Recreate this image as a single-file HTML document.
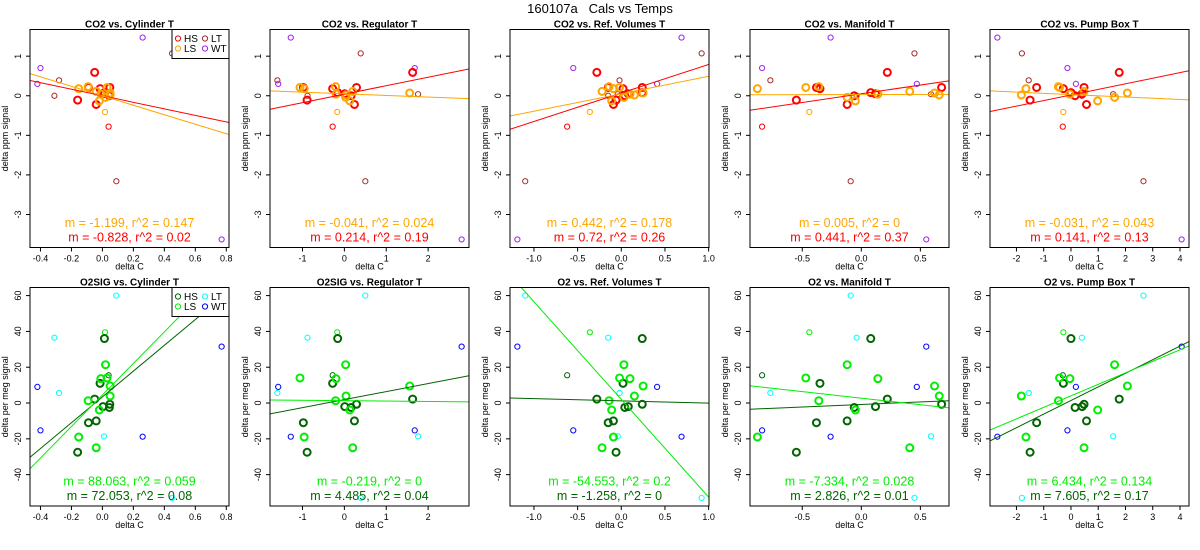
<!DOCTYPE html>
<html><head><meta charset="utf-8"><style>
html,body{margin:0;padding:0;background:#fff;}
svg{display:block;font-family:"Liberation Sans",Arial,sans-serif;}
</style></head><body>
<svg id="chart" width="1200" height="550" viewBox="0 0 1200 550">
<text x="600" y="13" text-anchor="middle" font-size="13" xml:space="preserve">160107a   Cals vs Temps</text>
</svg>
<script>
// ---- data: x values (delta C) per temperature column, per group ----
const colTitles = ["Cylinder T","Regulator T","Ref. Volumes T","Manifold T","Pump Box T"];
const colXTicks = [[-0.4,-0.2,0.0,0.2,0.4,0.6,0.8],[-1,0,1,2],[-1.0,-0.5,0.0,0.5,1.0],[-0.5,0.0,0.5],[-2,-1,0,1,2,3,4]];
const colTickDigits = [1,0,1,1,0];
const xHS_cyl = [-0.05,-0.09,0.048,-0.015,0.013,-0.16,-0.04,0.004,0.045];
const xHS_reg = [1.63,-0.98,0.29,-0.28,-0.16,-0.89,0.24,0.01,0.16];
const xHS_ref = [-0.28,-0.15,0.24,0.02,0.24,-0.06,-0.09,0.08,0.04];
const xHS_man = [0.22,-0.38,0.68,-0.35,0.08,-0.55,-0.12,0.12,-0.06];
const xHS_pump = [1.77,-1.26,0.48,-0.28,0.0,-1.5,0.57,0.41,0.15];
const xLS_cyl = [-0.153,-0.092,-0.04,-0.02,0.03,0.05,0.02,-0.01,0.05];
const xLS_reg = [-0.96,-0.21,0.2,0.13,-1.06,1.56,0.03,-0.2,0.04];
const xLS_ref = [-0.09,-0.14,-0.22,-0.11,-0.02,0.25,0.03,0.1,0.15];
const xLS_man = [-0.88,-0.36,0.41,-0.05,-0.47,0.62,-0.12,0.14,0.66];
const xLS_pump = [-1.65,-0.46,0.48,0.98,-0.42,2.07,1.6,-0.04,-1.82];
const xLT_cyl = [-0.28,-0.31,0.09,0.45,0.01];
const xLT_reg = [-1.6,-0.88,0.5,0.39,1.76];
const xLT_ref = [-0.02,-0.15,-1.1,0.92,-0.04];
const xLT_man = [-0.77,-0.04,-0.09,0.45,0.59];
const xLT_pump = [-1.55,0.4,2.66,-1.8,1.55];
const xWT_cyl = [-0.40,-0.42,0.26,0.77];
const xWT_reg = [1.68,-1.58,-1.28,2.8];
const xWT_ref = [-0.55,0.41,0.69,-1.19];
const xWT_man = [-0.84,0.47,-0.26,0.55];
const xWT_pump = [-0.13,0.18,-2.7,4.06];
const xHSout = [0.04,-0.28,-0.62,-0.84,-0.3];
const xLSout = [0.017,-0.17,-0.36,-0.44,-0.28];
// ---- data: y values per row ----
const yHS_co2 = [0.59,0.21,0.21,0.18,0.08,-0.11,-0.22,0.05,0.0];
const yLS_co2 = [0.18,0.23,0.11,-0.13,0.21,0.07,-0.04,0.04,0.02];
const yLT_co2 = [0.39,0.0,-2.16,1.07,0.04];
const yWT_co2 = [0.70,0.30,1.47,-3.63];
const yHSout_co2 = -0.78;
const yLSout_co2 = -0.41;
const yHS_o2 = [2.2,-11,-0.7,11,36,-27.5,-10,-2,-2.5];
const yLS_o2 = [-19,1.3,-25,-3.9,14,9.5,21.4,13.6,3.9];
const yLT_o2 = [5.6,36.5,60,-53,-18.6];
const yWT_o2 = [-15.3,9,-18.8,31.5];
const yHSout_o2 = 15.5;
const yLSout_o2 = 39.5;
// ---- fits ----
const co2SlopeLS = [-1.199,-0.041,0.442,0.005,-0.031];
const co2R2LS = ["0.147","0.024","0.178","0","0.043"];
const co2IntLS = [0.0,0.05,0.05,0.03,0.03];
const co2SlopeHS = [-0.828,0.214,0.72,0.441,0.141];
const co2R2HS = ["0.02","0.19","0.26","0.37","0.13"];
const co2IntHS = [0.0,0.04,0.07,0.05,0.02];
const o2SlopeLS = [88.063,-0.219,-54.553,-7.334,6.434];
const o2R2LS = ["0.059","0","0.2","0.028","0.134"];
const o2IntLS = [4.5,1.3,2.0,2.7,4.0];
const o2SlopeHS = [72.053,4.485,-1.258,2.826,7.605];
const o2R2HS = ["0.08","0.04","0","0.01","0.17"];
const o2IntHS = [3.4,1.9,1.2,-0.8,1.4];
const co2YTicks = [-3,-2,-1,0,1];
const o2YTicks = [-40,-20,0,20,40,60];

const NS = "http://www.w3.org/2000/svg";
const svg = document.getElementById("chart");
function mk(tag, attrs, parent){const e=document.createElementNS(NS,tag);for(const k in attrs)e.setAttribute(k,attrs[k]);(parent||svg).appendChild(e);return e;}
function ext(arr){let mn=Math.min(...arr),mx=Math.max(...arr),d=(mx-mn)*0.04;return [mn-d,mx+d];}

const colX = [
 {HS:xHS_cyl,LS:xLS_cyl,LT:xLT_cyl,WT:xWT_cyl},
 {HS:xHS_reg,LS:xLS_reg,LT:xLT_reg,WT:xWT_reg},
 {HS:xHS_ref,LS:xLS_ref,LT:xLT_ref,WT:xWT_ref},
 {HS:xHS_man,LS:xLS_man,LT:xLT_man,WT:xWT_man},
 {HS:xHS_pump,LS:xLS_pump,LT:xLT_pump,WT:xWT_pump}];
const rows = [
 {pre:["CO2","CO2","CO2","CO2","CO2"], ylab:"delta ppm signal", y:{HS:yHS_co2,LS:yLS_co2,LT:yLT_co2,WT:yWT_co2}, hsOut:yHSout_co2, lsOut:yLSout_co2,
  col:{HS:"#ff0000",LS:"#ffa500",LT:"#a52a2a",WT:"#a020f0"}, ticks:co2YTicks,
  sLS:co2SlopeLS,rLS:co2R2LS,iLS:co2IntLS,sHS:co2SlopeHS,rHS:co2R2HS,iHS:co2IntHS, y0:29.5, y1:247.5},
 {pre:["O2SIG","O2SIG","O2","O2","O2"], ylab:"delta per meg signal", y:{HS:yHS_o2,LS:yLS_o2,LT:yLT_o2,WT:yWT_o2}, hsOut:yHSout_o2, lsOut:yLSout_o2,
  col:{HS:"#006400",LS:"#00ee00",LT:"#00ffff",WT:"#0000ff"}, ticks:o2YTicks,
  sLS:o2SlopeLS,rLS:o2R2LS,iLS:o2IntLS,sHS:o2SlopeHS,rHS:o2R2HS,iHS:o2IntHS, y0:287.5, y1:506}];

rows.forEach((row,ri)=>{
  const yall=[].concat(row.y.HS,row.y.LS,row.y.LT,row.y.WT,[row.hsOut,row.lsOut]);
  const [ymn,ymx]=ext(yall);
  for(let c=0;c<5;c++){
    const cx=colX[c];
    const xall=[].concat(cx.HS,cx.LS,cx.LT,cx.WT,[xHSout[c],xLSout[c]]);
    const [xmn,xmx]=ext(xall);
    const x0=30+240*c, x1=229+240*c, y0=row.y0, y1=row.y1;
    const sx=v=>x0+(v-xmn)/(xmx-xmn)*(x1-x0);
    const sy=v=>y1-(v-ymn)/(ymx-ymn)*(y1-y0);
    const g=mk("g",{});
    
    
    const cid="clip"+ri+"_"+c;
    const cp=mk("clipPath",{id:cid},g); mk("rect",{x:x0,y:y0,width:x1-x0,height:y1-y0},cp);
    const t=mk("text",{x:(x0+x1)/2,y:y0-2,"text-anchor":"middle","font-size":"10","font-weight":"bold"},g);
    t.textContent=row.pre[c]+" vs. "+colTitles[c];
    
    
    colXTicks[c].forEach(v=>{
      const px=sx(v);
      mk("line",{x1:px,x2:px,y1:y1,y2:y1+4,stroke:"#000","stroke-width":"1"},g);
      const tl=mk("text",{x:px,y:y1+14,"text-anchor":"middle","font-size":"9"},g);
      tl.textContent=v.toFixed(colTickDigits[c]);
      
      
    });
    row.ticks.forEach(v=>{
      const py=sy(v);
      mk("line",{x1:x0-4,x2:x0,y1:py,y2:py,stroke:"#000","stroke-width":"1"},g);
      const tl=mk("text",{x:x0-9,y:py,"text-anchor":"middle","font-size":"9",transform:"rotate(-90 "+(x0-9)+" "+py+")"},g);
      tl.textContent=String(v);
      
      
    });
    const xt=mk("text",{x:(x0+x1)/2,y:y1+22,"text-anchor":"middle","font-size":"9"},g);
    xt.textContent="delta C";
    
    
    const ym=(y0+y1)/2;
    const yt=mk("text",{x:x0-22,y:ym,"text-anchor":"middle","font-size":"9",transform:"rotate(-90 "+(x0-22)+" "+ym+")"},g);
    yt.textContent=row.ylab;
    
    
    const pg=mk("g",{"clip-path":"url(#"+cid+")",fill:"none"},g);
    const plot=(xs,ys,color,r,w,name)=>{xs.forEach((xv,i)=>{
      const p=mk("circle",{cx:sx(xv),cy:sy(ys[i]),r:r,stroke:color,"stroke-width":w},pg);
      
      
    });};
    plot(cx.LT,row.y.LT,row.col.LT,2.6,1,'point-lt');
    plot(cx.WT,row.y.WT,row.col.WT,2.6,1,'point-wt');
    plot([xHSout[c]],[row.hsOut],row.col.HS,2.6,1,'point-hs-excluded');
    plot([xLSout[c]],[row.lsOut],row.col.LS,2.6,1,'point-ls-excluded');
    plot(cx.HS,row.y.HS,row.col.HS,3.5,2,'point-hs');
    plot(cx.LS,row.y.LS,row.col.LS,3.5,2,'point-ls');
    const fit=(m,b,color,name)=>{
      const l=mk("line",{x1:sx(xmn),y1:sy(b+m*xmn),x2:sx(xmx),y2:sy(b+m*xmx),stroke:color,"stroke-width":"1"},pg);
      
      
    };
    fit(row.sHS[c],row.iHS[c],row.col.HS,'fit-line-hs');
    fit(row.sLS[c],row.iLS[c],row.col.LS,'fit-line-ls');
    mk("rect",{x:x0,y:y0,width:x1-x0,height:y1-y0,fill:"none",stroke:"#000","stroke-width":"1"},g);
    const a1=mk("text",{x:(x0+x1)/2,y:y1-20.5,"text-anchor":"middle","font-size":"12.5",fill:row.col.LS},g);
    a1.textContent="m = "+row.sLS[c]+", r^2 = "+row.rLS[c];
    
    
    const a2=mk("text",{x:(x0+x1)/2,y:y1-6,"text-anchor":"middle","font-size":"12.5",fill:row.col.HS},g);
    a2.textContent="m = "+row.sHS[c]+", r^2 = "+row.rHS[c];
    
    
    if(c===0){
      const lg=mk("g",{},g);
      
      
      mk("rect",{x:172,y:y0,width:x1-172,height:29,fill:"#fff",stroke:"#000","stroke-width":"1"},lg);
      [["HS",178,y0+9,row.col.HS],["LS",178,y0+19,row.col.LS],["LT",205,y0+9,row.col.LT],["WT",205,y0+19,row.col.WT]].forEach(e=>{
        mk("circle",{cx:e[1],cy:e[2],r:2.6,fill:"none",stroke:e[3],"stroke-width":"1"},lg);
        const lt=mk("text",{x:e[1]+6,y:e[2]+3.5,"font-size":"10"},lg);
        lt.textContent=e[0];
        
        
      });
    }
  }
});
</script>
</body></html>
